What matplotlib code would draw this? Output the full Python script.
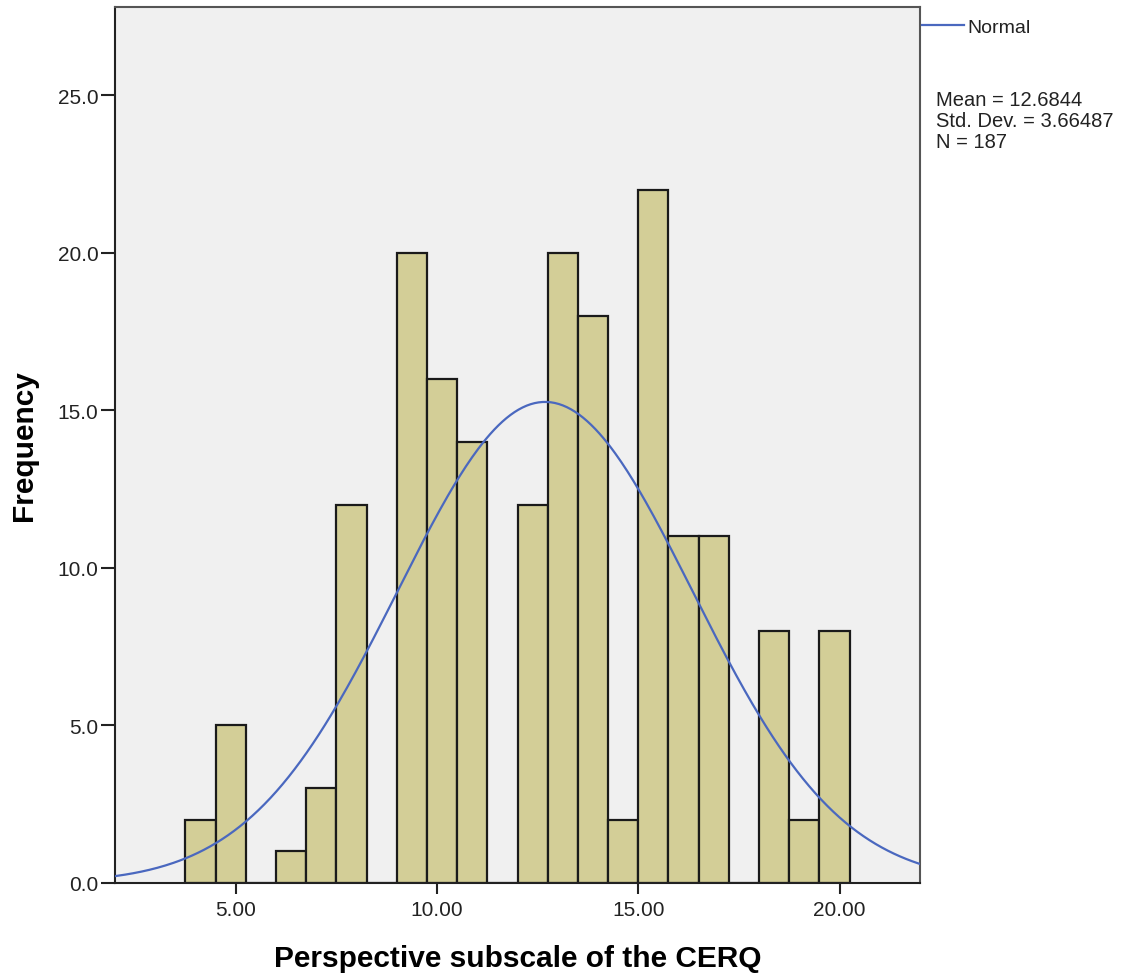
import matplotlib
matplotlib.use('Agg')
import matplotlib.pyplot as plt
import numpy as np

## SPSS style histogram of the CERQ perspective subscale

counts = [2, 5, 0, 1, 3, 12, 0, 20, 16, 14, 0, 12, 20, 18, 2, 22, 11, 11, 0, 8, 2, 8]
bin_start = 3.75
bin_width = 0.75
mean = 12.6844
std = 3.66487
n = 187

x_ticks = [5, 10, 15, 20]
x_labels = ['5.00', '10.00', '15.00', '20.00']
y_ticks = [0, 5, 10, 15, 20, 25]
y_labels = ['0.0', '5.0', '10.0', '15.0', '20.0', '25.0']
stats_lines = ['Mean = 12.6844', 'Std. Dev. = 3.66487', 'N = 187']

plt.rcParams['font.family'] = ['Liberation Sans', 'DejaVu Sans']

fig = plt.figure(figsize=(11.42, 9.78), dpi=100)
ax = fig.add_axes([115/1142, 94/978, 805/1142, 876/978])
ax.set_facecolor('#F0F0F0')

edges = bin_start + bin_width*np.arange(len(counts))
ax.bar(edges, counts, width=bin_width, align='edge', color='#D3CE97',
       edgecolor='#1a1a1a', linewidth=1.6, zorder=2)

# normal curve scaled to the histogram
xs = np.linspace(2, 22, 400)
ys = n*bin_width/(std*np.sqrt(2*np.pi))*np.exp(-0.5*((xs-mean)/std)**2)
ax.plot(xs, ys, color='#4A68BF', linewidth=1.6, zorder=3)

ax.set_xlim(2, 22)
ax.set_ylim(0, 27.8)
ax.set_xticks(x_ticks)
ax.set_xticklabels(x_labels)
ax.set_yticks(y_ticks)
ax.set_yticklabels(y_labels)
ax.tick_params(axis='both', labelsize=15, width=1.5, color='#222222', labelcolor='#222222')
ax.tick_params(axis='x', length=8, pad=4)
ax.tick_params(axis='y', length=10, pad=2)
for s in ax.spines.values():
    s.set_color('#555555')
    s.set_linewidth(1.5)
ax.spines['left'].set_color('#222222')
ax.spines['bottom'].set_color('#222222')

ax.set_xlabel('Perspective subscale of the CERQ', fontsize=21.5, fontweight='bold', labelpad=18)
ax.set_ylabel('Frequency', fontsize=21.5, fontweight='bold', labelpad=14)

# legend outside on the right
fig.lines.append(plt.Line2D([922/1142, 964/1142], [1-26/978, 1-26/978], color='#4A68BF', linewidth=1.6, transform=fig.transFigure))
fig.text(967/1142, 1-33/978, 'Normal', fontsize=14, va='baseline', ha='left', color='#222222')
for i, line in enumerate(stats_lines):
    fig.text(936/1142, 1-(106+21*i)/978, line, fontsize=14.5, va='baseline', ha='left', color='#222222')

fig.savefig('out.png', dpi=100)
